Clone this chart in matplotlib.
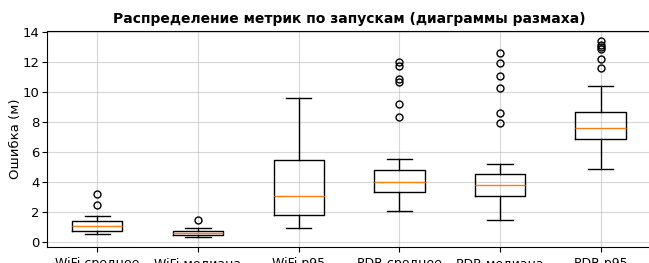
import matplotlib
matplotlib.use('Agg')
import matplotlib.pyplot as plt

labels = ['WiFi среднее', 'WiFi медиана', 'WiFi p95', 'PDR среднее', 'PDR медиана', 'PDR p95']
med = [1.02, 0.60, 3.01, 4.00, 3.78, 7.58]
q1 = [0.73, 0.46, 1.75, 3.32, 3.01, 6.83]
q3 = [1.35, 0.73, 5.42, 4.78, 4.53, 8.67]
whislo = [0.48, 0.29, 0.93, 2.01, 1.46, 4.82]
whishi = [1.68, 0.91, 9.58, 5.49, 5.18, 10.40]
fliers = [
    [3.16, 2.41],
    [1.46],
    [],
    [12.0, 11.75, 10.86, 10.66, 9.16, 8.32],
    [12.56, 11.9, 11.06, 10.24, 8.58, 7.92],
    [13.4, 13.14, 12.99, 12.85, 12.2, 11.61],
]
yticks = [0, 2, 4, 6, 8, 10, 12, 14]

stats = []
for i in range(len(labels)):
    stats.append({'label': labels[i], 'med': med[i], 'q1': q1[i], 'q3': q3[i],
                  'whislo': whislo[i], 'whishi': whishi[i], 'fliers': fliers[i]})

fig = plt.figure(figsize=(6.49, 2.63), dpi=100)
ax = fig.add_axes([47/649, 16/263, 604/649, 216/263])
ax.bxp(stats, flierprops=dict(markersize=5))
ax.set_yticks(yticks)
ax.grid(True, alpha=0.5)
ax.set_axisbelow(True)
ax.set_title('Распределение метрик по запускам (диаграммы размаха)', fontsize=10, fontweight='bold')
ax.set_ylabel('Ошибка (м)', fontsize=9.5)
ax.yaxis.set_label_coords(-0.042, 0.5)
ax.tick_params(axis='y', labelsize=9.5, pad=2)
ax.tick_params(axis='x', labelsize=9)

fig.savefig('out.png', dpi=100)
